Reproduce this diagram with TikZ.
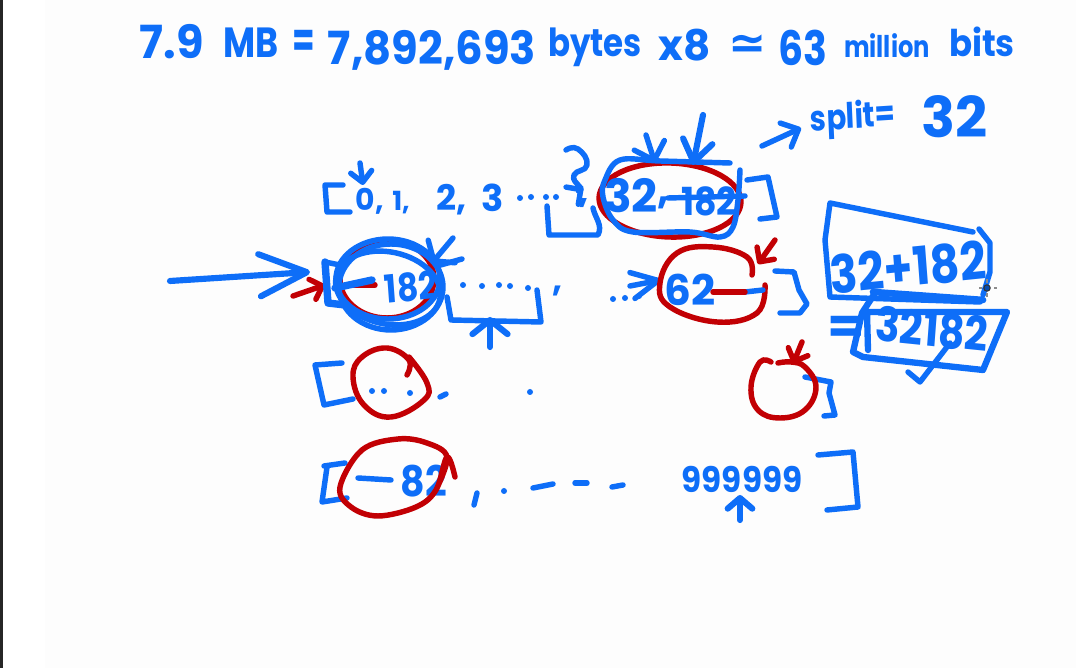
\documentclass[tikz,border=0pt]{standalone}
\usepackage{fontspec}
\usepackage{xcolor}
\usepackage{tikz}
\usetikzlibrary{arrows.meta}
\newfontfamily\inkfont{Poppins}
\newfontfamily\inksym{DejaVu Sans}
\definecolor{inkblue}{RGB}{14,110,248}
\definecolor{inkred}{RGB}{194,0,4}
\definecolor{paper}{RGB}{253,253,253}
\tikzset{
  bluepen/.style={draw=inkblue,line width=3.1pt,line cap=round,line join=round},
  redpen/.style={draw=inkred,line width=3.1pt,line cap=round,line join=round},
  ink/.style={text=inkblue,inner sep=0pt,font=\inkfont\bfseries\fontsize{#1}{#1}\selectfont},
  ink/.default=24
}
\begin{document}
\begin{tikzpicture}[x=0.02cm,y=-0.02cm,>={Straight Barb[length=6pt,width=12pt,round]}]
  \useasboundingbox (0,0) rectangle (1076,668);
  \fill[white] (0,0) rectangle (1076,668);
  \fill[paper] (45,0) rectangle (1076,668);
  \fill[black!85] (0,0) rectangle (3,668);

  % title line
  \node[ink=26,xscale=0.98] (size) at (172,42) {7.9};
  \node[ink=24,xscale=0.83] (unit) at (251,43) {MB};
  \node[ink=28,xscale=0.66] (eq) at (304,44) {=};
  \node[ink=26,xscale=0.95] (bytecount) at (432,50) {7,892,693};
  \node[ink=22,xscale=0.84] (bytes) at (595,47) {bytes};
  \node[ink=24] (times) at (685,45) {x8};
  \node[text=inkblue,inner sep=0pt,font=\inksym\bfseries\fontsize{26}{26}\selectfont] (approx) at (748,47) {≃};
  \node[ink=27,xscale=0.83] (total) at (803,48) {63};
  \node[ink=17,xscale=0.81] (million) at (887,46) {million};
  \node[ink=21,xscale=0.92] (bits) at (982,42) {bits};

  % split label
  \node[ink=20,xscale=0.83,rotate=3] (splitword) at (853,119) {split=};
  \node[ink=32] (splitval) at (955,117) {32};
  \draw[bluepen,->,>={Straight Barb[length=8pt,width=15pt,round]}] (762,146) -- (801,128);

  % first row
  \draw[bluepen] (343,185) -- (325,185) -- (327,212) -- (350,212);
  \draw[bluepen,->] (360,163) -- (363,185);
  \node[ink=17] (zero) at (370,201) {0,};
  \node[ink=15] (one) at (401,203) {1,};
  \node[ink=20] (two) at (452,200) {2,};
  \node[ink=21] (three) at (493,198) {3};
  \foreach \x/\y in {520/198,531/197,546/197,556/197} \fill[inkblue] (\x,\y) circle (3);
  \node[ink=18] (comma) at (584,203) {,};
  \draw[bluepen] (547,206) -- (549,235) -- (598,235) .. controls (603,225) and (595,218) .. (593,208);
  \draw[bluepen,->] plot[smooth,tension=.9] coordinates {(566,150) (578,149) (587,165) (574,175) (579,186) (583,188)};

  \draw[redpen,rotate around={-2:(670,200)}] (670,200) ellipse (71 and 37);
  \node[ink=26] (first) at (631,196) {32};
  \node[ink=24] (firstcomma) at (664,203) {,};
  \node[ink=22,xscale=0.9] (crossed) at (709,201) {182};
  \draw[bluepen] (668,198) -- (745,196);
  \draw[bluepen] plot[smooth,tension=.6] coordinates {(730,163) (660,161) (620,160) (605,180) (603,197) (613,220) (633,232) (690,232) (720,237) (733,227) (738,200) (740,170)};
  \draw[bluepen] (747,180) -- (768,177) -- (777,217) -- (760,219);
  \draw[bluepen,->,>={Straight Barb[length=9pt,width=18pt,round]}] (646,135) -- (655,163);
  \draw[bluepen,line width=3.5pt,->,>={Straight Barb[length=12pt,width=17pt,round]}] (703,115) -- (693,165);

  % second row
  \draw[bluepen,line width=3.5pt,->,>={Straight Barb[length=27pt,width=24pt,round]}] (170,281) -- (310,272);
  \draw[redpen,->] (293,296) -- (325,285);
  \draw[redpen] (387,279) ellipse (47 and 39);
  \draw[redpen] (350,285) -- (375,285);
  \draw[bluepen,line width=4.2pt] (325,262) -- (328,303) -- (345,305);
  \draw[bluepen] (325,262) -- (340,265);
  \draw[bluepen,line width=4.2pt] (335,288) -- (372,280);
  \draw[bluepen] (388,279) ellipse (52 and 40);
  \draw[bluepen] (391,287) ellipse (52 and 43);
  \draw[bluepen,rotate around={-12:(388,288)}] (388,288) ellipse (53 and 36);
  \node[ink=22,xscale=0.85,rotate=5] (second) at (411,287) {182};
  \draw[bluepen,->,>={Straight Barb[length=7pt,width=20pt,round]}] (453,238) -- (432,263);
  \draw[bluepen] (462,259) -- (437,266);
  \foreach \x/\y in {463/285,482/286,499/285,510/286,528/288,613/299,625/298,639/296} \fill[inkblue] (\x,\y) circle (3);
  \draw[bluepen] (447,297) -- (451,320) -- (541,322) -- (537,290);
  \node[ink=20] (secondcomma) at (558,291) {,};
  \draw[bluepen,line width=3.5pt,->,>={Straight Barb[length=8pt,width=20pt,round]}] (490,347) -- (490,317);

  \draw[bluepen,->,>={Straight Barb[length=15pt,width=15pt,round]}] (630,286) -- (661,280);
  \draw[redpen] plot[smooth,tension=.7] coordinates {(752,275) (747,257) (713,247) (677,253) (660,283) (670,307) (717,322) (757,313) (765,285)};
  \draw[redpen,->] (775,240) -- (758,264);
  \node[ink=24] (third) at (690,290) {62};
  \draw[bluepen] (745,292) -- (763,290);
  \draw[redpen] (713,292) -- (745,292);
  \draw[bluepen] (775,271) -- (794,272) -- (799,290) -- (807,304) -- (800,313) -- (780,313);

  % third row
  \draw[bluepen] (342,363) -- (315,365) -- (324,405) -- (353,399);
  \draw[redpen] plot[smooth,tension=.7] coordinates {(407,375) (409,360) (387,348) (362,357) (353,377) (364,405) (391,417) (424,400) (427,383) (409,357)};
  \foreach \x/\y in {372/391,384/391,410/393,530/392} \fill[inkblue] (\x,\y) circle (3);
  \draw[bluepen] (440,397) -- (446,394);
  \draw[bluepen] (805,377) -- (831,382) -- (829,393) -- (835,415) -- (824,416);
  \draw[redpen] plot[smooth,tension=.7] coordinates {(771,362) (760,362) (751,387) (758,410) (780,418) (805,410) (816,387) (805,367) (791,362) (778,363)};
  \draw[redpen,->] (802,342) -- (793,364);

  % last row
  \draw[bluepen] (345,463) -- (324,466);
  \draw[bluepen] (327,467) -- (322,502) -- (347,498);
  \draw[bluepen] (358,478) -- (391,480);
  \node[ink=24,xscale=0.9] (last) at (424,481) {82};
  \draw[redpen] plot[smooth,tension=.6] coordinates {(436,490) (447,457) (427,443) (398,439) (362,450) (340,487) (351,507) (378,516) (416,507) (436,490) (447,457) (455,477)};
  \draw[bluepen] (477,493) -- (474,505);
  \fill[inkblue] (504,491) circle (3);
  \draw[bluepen] (533,488) -- (553,484);
  \draw[bluepen] (575,483) -- (587,483);
  \draw[bluepen] (612,487) -- (623,485);
  \node[ink=20,xscale=0.93] (largest) at (742,479) {999999};
  \draw[bluepen,line width=3.5pt,->,>={Straight Barb[length=6pt,width=14pt,round]}] (740,520) -- (740,495);
  \draw[bluepen] (818,455) -- (853,452) -- (858,507) -- (827,510);

  % sum on the right
  \draw[bluepen] (973,232) -- (830,203) -- (825,240) -- (830,297) -- (980,302);
  \draw[bluepen] (979,229) -- (990,243) -- (990,272) -- (983,295);
  \node[ink=30,xscale=0.87,rotate=5] (sum) at (908,267) {32+182};
  \draw[bluepen,line width=3.8pt] (873,292) -- (983,300);
  \node[ink=28,xscale=1.1] (result) at (846,330) {=};
  \draw[bluepen,line width=3.6pt] (875,293) -- (862,313) -- (853,352) -- (863,357) -- (983,370) -- (1007,312) -- (867,312) -- (868,350);
  \node[ink=27,xscale=0.86,rotate=-5] (joined) at (932,329) {32182};
  \draw[bluepen] (908,372) -- (920,382) -- (950,343);

  % pen cursor
  \draw[black!45,line width=0.7pt] (979,288) -- (982,288) (994,288) -- (997,288) (987,279) -- (987,283) (987,293) -- (987,297);
  \draw[black!80,fill=inkblue!70!black,line width=0.6pt] (987,288) circle (3.2);
\end{tikzpicture}
\end{document}
